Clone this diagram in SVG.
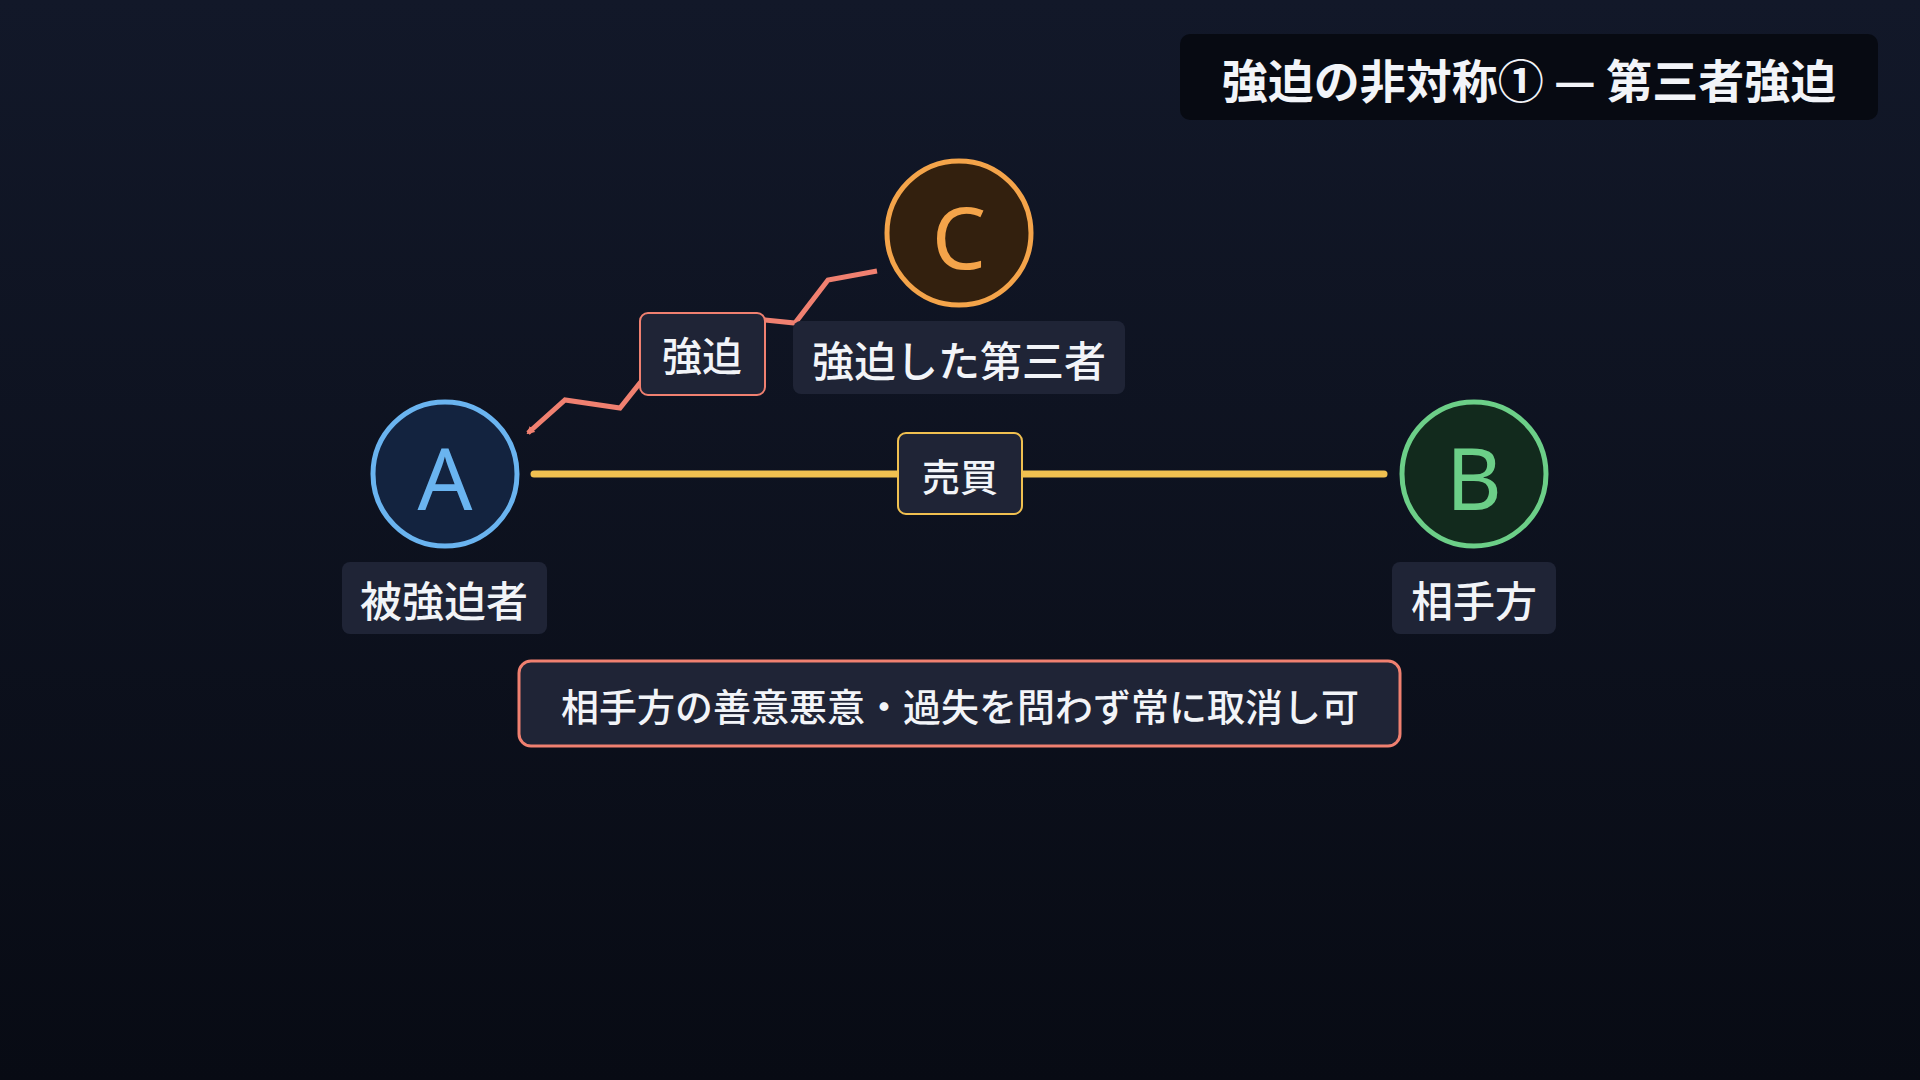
<svg xmlns="http://www.w3.org/2000/svg" width="1920" height="1080" viewBox="0 0 1920 1080">
<defs>
<linearGradient id="bg" x1="0" y1="0" x2="0" y2="1"><stop offset="0" stop-color="#121829"/><stop offset="1" stop-color="#080b14"/></linearGradient>
<marker id="ah" markerWidth="8" markerHeight="8" refX="6" refY="4" orient="auto" markerUnits="userSpaceOnUse"><path d="M0,0 L8,4 L0,8 z" fill="#f08070"/></marker>
<style>
text{font-family:"Noto Sans CJK JP","Noto Sans",sans-serif;fill:#f2f4f8;text-anchor:middle;dominant-baseline:central}
.lbl{fill:#1f2436}
.t{font-size:38px;font-weight:500}
</style>
</defs>
<rect width="1920" height="1080" fill="url(#bg)"/>
<g id="connectors">
<line x1="534" y1="474" x2="1384" y2="474" stroke="#f0c050" stroke-width="7" stroke-linecap="round"/>
<polyline points="877,271 828,280 795,323 765,320 700,318 640,383 620,408 565,400 528,433" fill="none" stroke="#f08070" stroke-width="5" marker-end="url(#ah)"/>
</g>
<g id="title"><rect x="1180" y="34" width="698" height="86" rx="10" fill="#070a12"/><text x="1529" y="78" style="font-size:46px;font-weight:700">強迫の非対称① — 第三者強迫</text></g>
<g id="nodeA"><circle cx="445" cy="474" r="72" fill="#13233f" stroke="#6ab4f0" stroke-width="5"/><text x="445" y="476" style="font-size:86px;fill:#6ab4f0;font-family:'Noto Sans',sans-serif">A</text>
<rect class="lbl" x="342" y="562" width="205" height="72" rx="8"/><text class="t" x="444" y="598" style="font-size:42px">被強迫者</text></g>
<g id="nodeB"><circle cx="1474" cy="474" r="72" fill="#122a1d" stroke="#6ccf88" stroke-width="5"/><text x="1474" y="476" style="font-size:86px;fill:#6ccf88;font-family:'Noto Sans',sans-serif">B</text>
<rect class="lbl" x="1392" y="562" width="164" height="72" rx="8"/><text class="t" x="1474" y="598" style="font-size:42px">相手方</text></g>
<g id="nodeC"><circle cx="959" cy="233" r="72" fill="#33200e" stroke="#f4a44a" stroke-width="5"/><text x="959" y="235" style="font-size:86px;fill:#f4a44a;font-family:'Noto Sans',sans-serif">C</text>
<rect class="lbl" x="793" y="321" width="332" height="73" rx="8"/><text class="t" x="959" y="358" style="font-size:42px">強迫した第三者</text></g>
<g id="edgeLabelCoerce"><rect class="lbl" x="640" y="313" width="125" height="82" rx="8" stroke="#f08070" stroke-width="2"/><text class="t" x="702" y="354" style="font-size:40px">強迫</text></g>
<g id="edgeLabelSale"><rect class="lbl" x="898" y="433" width="124" height="81" rx="8" stroke="#f0c050" stroke-width="2"/><text class="t" x="960" y="474" style="font-size:38px">売買</text></g>
<g id="note"><rect class="lbl" x="519" y="661" width="881" height="85" rx="12" stroke="#f08070" stroke-width="3"/><text class="t" x="960" y="704">相手方の善意悪意・過失を問わず常に取消し可</text></g>
</svg>
